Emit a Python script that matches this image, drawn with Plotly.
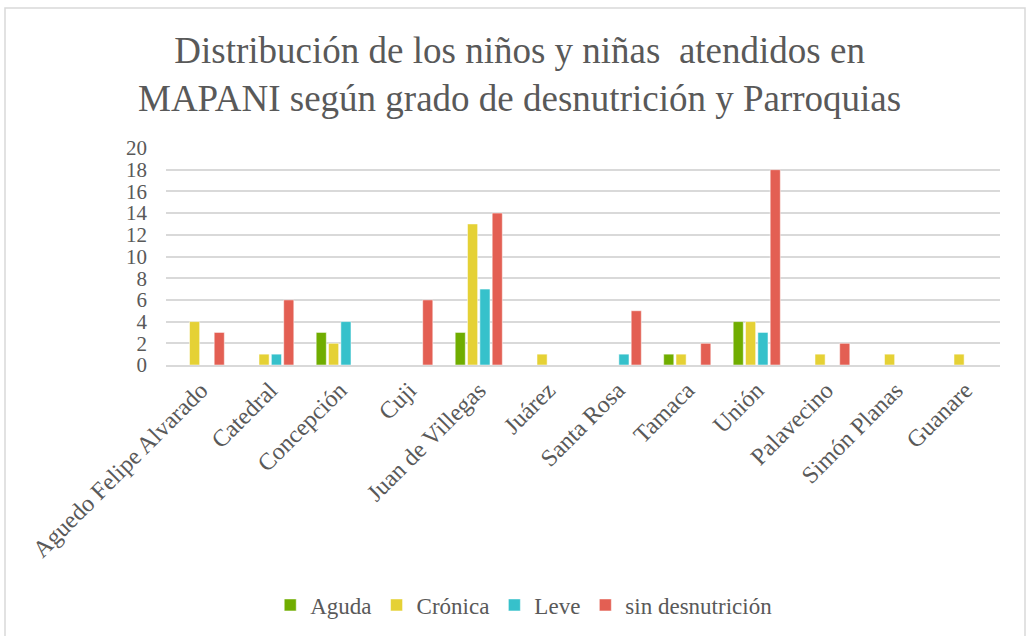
import plotly.graph_objects as go

parroquias = ["Aguedo Felipe Alvarado", "Catedral", "Concepción", "Cuji", "Juan de Villegas",
              "Juárez", "Santa Rosa", "Tamaca", "Unión", "Palavecino", "Simón Planas", "Guanare"]
aguda = [0, 0, 3, 0, 3, 0, 0, 1, 4, 0, 0, 0]
cronica = [4, 1, 2, 0, 13, 1, 0, 1, 4, 1, 1, 1]
leve = [0, 1, 4, 0, 7, 0, 1, 0, 3, 0, 0, 0]
sin_desn = [3, 6, 0, 6, 14, 0, 5, 2, 18, 2, 0, 0]
series_names = ["Aguda", "Crónica", "Leve", "sin desnutrición"]
series_colors = ["#70AD00", "#E5D135", "#36C1CB", "#E35F53"]
y_ticks = [0, 2, 4, 6, 8, 10, 12, 14, 16, 18, 20]

FONT = "Liberation Serif"
W, H = 1033, 636
L, R, T, B = 166, 33, 148, 271
PW, PH = W - L - R, H - T - B

fig = go.Figure()
for name, vals, col in zip(series_names, [aguda, cronica, leve, sin_desn], series_colors):
    fig.add_trace(go.Bar(x=parroquias, y=[v if v else None for v in vals], name=name,
                         marker=dict(color=col, line=dict(color="rgba(255,255,255,0.5)", width=1))))

fig.update_layout(
    width=W, height=H,
    barmode="group", bargap=0.29, bargroupgap=0.18,
    paper_bgcolor="white", plot_bgcolor="white",
    margin=dict(l=L, r=R, t=T, b=B, autoexpand=False),
    font=dict(family=FONT, color="#595959"),
    title=dict(text="Distribución de los niños y niñas  atendidos en<br>MAPANI según grado de desnutrición y Parroquias",
               x=0.503, xanchor="center", xref="container", y=1 - 63 / H, yanchor="middle", yref="container",
               automargin=False,
               font=dict(family=FONT, size=37, color="#595959")),
    legend=dict(orientation="h", xref="container", x=0.507, xanchor="center",
                y=-(605 - 365) / PH, yanchor="middle",
                font=dict(family=FONT, size=23, color="#595959"), traceorder="normal",
                itemwidth=30, tracegroupgap=0),
    showlegend=True,
)
fig.update_yaxes(range=[0, 20], tickvals=y_ticks, showgrid=True, gridcolor="#D9D9D9", gridwidth=1.5,
                 zeroline=False, showline=False, ticks="", automargin=False, ticklabelstandoff=18,
                 tickfont=dict(family=FONT, size=21, color="#595959"))
fig.update_xaxes(showline=True, linecolor="#D9D9D9", linewidth=1.5, ticks="",
                 tickangle=-45, automargin=False,
                 tickfont=dict(family=FONT, size=24, color="#595959"))
fig.add_shape(type="rect", xref="paper", yref="paper", x0=-(L - 5) / PW, x1=1 + (R - 8) / PW,
              y0=-(B + 5) / PH, y1=1 + (T - 8) / PH,
              line=dict(color="#D9D9D9", width=1.5), fillcolor="rgba(0,0,0,0)")
fig.write_html("out.html", config={"displayModeBar": False},
               post_script="document.body.style.margin='0';")
